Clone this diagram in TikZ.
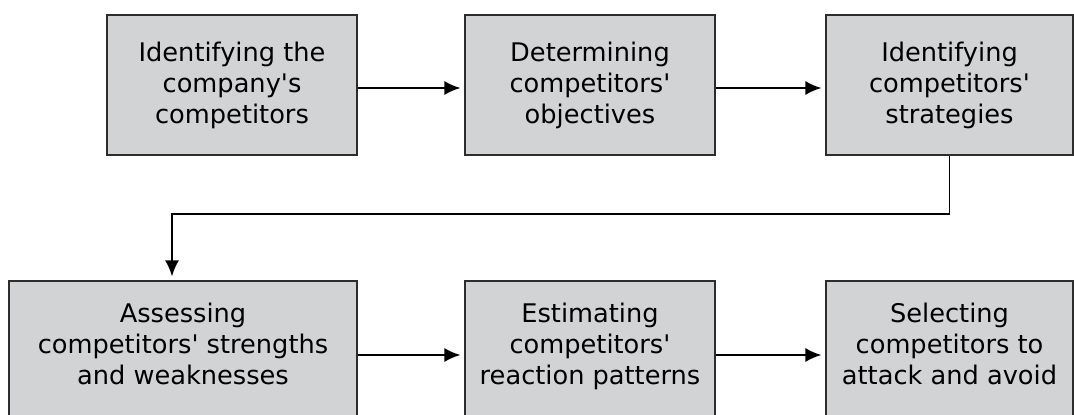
\documentclass[tikz,border=0pt]{standalone}
\usepackage{fontspec}
\setmainfont{DejaVu Sans}
\usepackage{tikz}
\usetikzlibrary{arrows.meta,calc,positioning}
\definecolor{boxgrey}{RGB}{210,211,213}
\definecolor{edgegrey}{RGB}{45,45,45}
\newcommand{\apos}{\textquotesingle}
\tikzset{
  stage/.style={draw=edgegrey, fill=boxgrey, line width=1.2pt, minimum height=2.8cm,
    inner sep=0pt, align=center, font=\fontsize{14.6}{17.6}\selectfont},
  lowstage/.style={stage, text depth=0.3cm}, % text sits a bit high, box runs off the page
  flowArrow/.style={-{Latex[length=0.32cm,width=0.28cm]}, line width=1.1pt, shorten >=0.07cm}
}

\begin{document}
\begin{tikzpicture}
  \useasboundingbox (0,0) rectangle (21.48,8.28);
  \clip (0,0) rectangle (21.48,8.28);
  % first row of stages
  \node[stage, minimum width=5cm] (rivals) at (4.64,6.58) {Identifying the\\company\apos s\\competitors};
  \node[stage, minimum width=5cm] (goals) at (11.80,6.58) {Determining\\competitors\apos\\objectives};
  \node[stage, minimum width=4.94cm] (strategies) at (18.99,6.58) {Identifying\\competitors\apos\\strategies};
  % second row, cut at the lower edge
  \node[lowstage, minimum width=6.96cm] (assess) at (3.66,1.26) {Assessing\\competitors\apos{} strengths\\and weaknesses};
  \node[lowstage, minimum width=5cm] (reaction) at (11.80,1.26) {Estimating\\competitors\apos\\reaction patterns};
  \node[lowstage, minimum width=4.94cm] (select) at (18.99,1.26) {Selecting\\competitors to\\attack and avoid};
  % flow
  \draw[flowArrow] ([yshift=-0.06cm]rivals.east) -- ([yshift=-0.06cm]goals.west);
  \draw[flowArrow] ([yshift=-0.06cm]goals.east) -- ([yshift=-0.06cm]strategies.west);
  \coordinate (turn) at (3.44,4.0);
  \draw[flowArrow] (strategies.south) |- (turn) -- (turn |- assess.north);
  \draw[flowArrow] ([yshift=-0.08cm]assess.east) -- ([yshift=-0.08cm]reaction.west);
  \draw[flowArrow] ([yshift=-0.08cm]reaction.east) -- ([yshift=-0.08cm]select.west);
\end{tikzpicture}
\end{document}
